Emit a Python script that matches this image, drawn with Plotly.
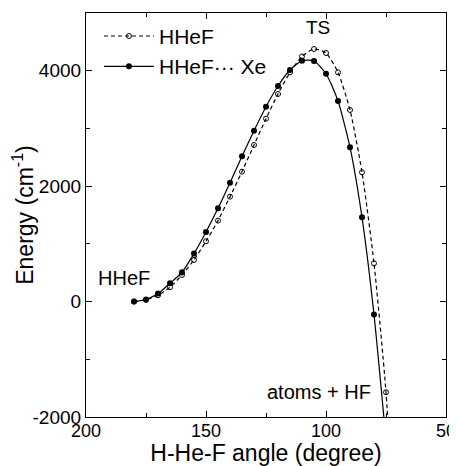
import plotly.graph_objects as go

angle_xe = [180, 175, 170, 165, 160, 155, 150, 145, 140, 135, 130, 125, 120, 115, 110, 105, 100, 95, 90, 85, 80, 75]
energy_xe = [0, 35, 138, 317, 508, 831, 1206, 1616, 2060, 2516, 2961, 3377, 3735, 4012, 4173, 4168, 3948, 3475, 2672, 1460, -225, -2400]

angle_hhef = [180, 175, 170, 165, 160, 155, 150, 145, 140, 135, 130, 125, 120, 115, 110, 105, 100, 95, 90, 85, 80, 75, 70]
energy_hhef = [0, 30, 109, 248, 462, 722, 1044, 1403, 1818, 2251, 2713, 3169, 3597, 3972, 4248, 4376, 4307, 3972, 3320, 2240, 663, -1571, -5000]

x_ticks = [200, 150, 100, 50]
x_tick_labels = ["200", "150", "100", "50"]
y_ticks = [-2000, 0, 2000, 4000]
y_tick_labels = ["-2000", "0", "2000", "4000"]

FONT = "Liberation Sans, Arial, sans-serif"

fig = go.Figure()
fig.add_trace(go.Scatter(
    x=angle_hhef, y=energy_hhef, mode="lines+markers", name="HHeF",
    line=dict(color="black", width=1.2, dash="4px,3px", shape="spline", smoothing=0.6),
    marker=dict(symbol="circle-open", size=5, color="black", line=dict(width=1)),
))
fig.add_trace(go.Scatter(
    x=angle_xe, y=energy_xe, mode="lines+markers", name="HHeF\u00b7\u00b7\u00b7 Xe",
    line=dict(color="black", width=1.2, shape="spline", smoothing=0.6),
    marker=dict(symbol="circle", size=6, color="black"),
))

fig.add_annotation(x=103.5, y=4745, text="TS", showarrow=False,
                   font=dict(family=FONT, size=19, color="black"))
fig.add_annotation(x=184, y=415, text="HHeF", showarrow=False,
                   font=dict(family=FONT, size=20, color="black"))
fig.add_annotation(x=103, y=-1560, text="atoms + HF", showarrow=False,
                   font=dict(family=FONT, size=20, color="black"))

axis_common = dict(
    showgrid=False, zeroline=False, showline=True, linecolor="black", linewidth=1.2,
    mirror="ticks", ticks="inside", ticklen=6, tickwidth=1, tickcolor="black",
    automargin=False,
)

# page body adds an 8px margin, so the figure is sized to fit the window
fig.update_layout(
    width=449, height=458,
    margin=dict(l=78, r=11, t=5, b=49),
    paper_bgcolor="white", plot_bgcolor="white",
    font=dict(family=FONT, color="black", size=18),
    showlegend=True,
    legend=dict(x=0.036, y=0.993, xanchor="left", yanchor="top",
                bgcolor="rgba(0,0,0,0)", font=dict(family=FONT, size=21),
                itemwidth=50, tracegroupgap=0),
    xaxis=dict(range=[200, 50], tickvals=x_ticks, ticktext=x_tick_labels,
               tickfont=dict(family=FONT, size=18, color="black"), ticklabelstandoff=-3,
               minor=dict(tickvals=[175, 125, 75], ticks="inside", ticklen=4, tickcolor="black"),
               title=dict(text="H-He-F angle (degree)", font=dict(family=FONT, size=23), standoff=9),
               **axis_common),
    yaxis=dict(range=[-2000, 5000], tickvals=y_ticks, ticktext=y_tick_labels,
               tickfont=dict(family=FONT, size=19, color="black"),
               minor=dict(tickvals=[-1000, 1000, 3000], ticks="inside", ticklen=4, tickcolor="black"),
               title=dict(text="Energy (cm<sup>-1</sup>)", font=dict(family=FONT, size=23), standoff=2),
               **axis_common),
)

fig.write_html("out.html")
